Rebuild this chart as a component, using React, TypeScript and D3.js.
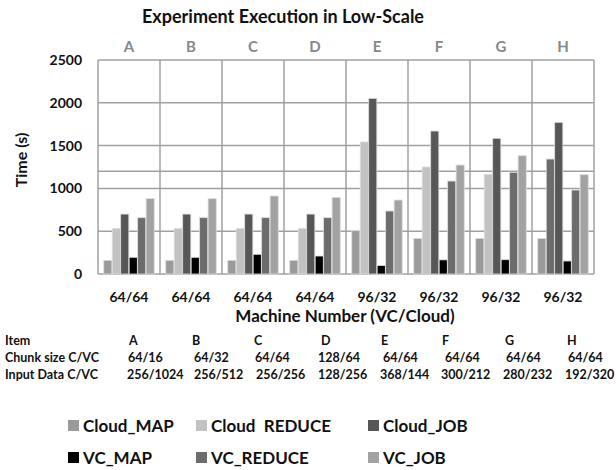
import React, { useEffect } from 'react';
import * as d3 from 'd3';

const groups = ['A', 'B', 'C', 'D', 'E', 'F', 'G', 'H'];
const machineLabels = ['64/64', '64/64', '64/64', '64/64', '96/32', '96/32', '96/32', '96/32'];
const series = ['Cloud_MAP', 'Cloud_REDUCE', 'Cloud_JOB', 'VC_MAP', 'VC_REDUCE', 'VC_JOB'];
const legendNames = ['Cloud_MAP', 'Cloud  REDUCE', 'Cloud_JOB', 'VC_MAP', 'VC_REDUCE', 'VC_JOB'];

const cloudMap = [160, 160, 160, 160, 505, 415, 415, 415];
const cloudReduce = [532, 532, 532, 532, 1542, 1250, 1165, 1343];
const cloudJob = [700, 700, 700, 700, 2052, 1670, 1585, 1772];
const vcMap = [195, 195, 230, 210, 100, 165, 167, 152];
const vcReduce = [658, 658, 658, 658, 736, 1086, 1188, 981];
const vcJob = [880, 880, 911, 895, 864, 1273, 1382, 1160];
const values = [cloudMap, cloudReduce, cloudJob, vcMap, vcReduce, vcJob];

const yTicks = [0, 500, 1000, 1500, 2000, 2500];
const refLine = 1200;

const tableRows = ['Item', 'Chunk size C/VC', 'Input Data C/VC'];
const chunkSize = ['64/16', '64/32', '64/64', '128/64', '64/64', '64/64', '64/64', '64/64'];
const inputData = ['256/1024', '256/512', '256/256', '128/256', '368/144', '300/212', '280/232', '192/320'];

const colors = ['#9a9a9a', '#c2c2c2', '#575757', '#000000', '#6c6c6c', '#a2a2a2'];
const font = 'Lato, "Open Sans", sans-serif';

const App = () => {
  useEffect(() => {
    document.body.style.margin = '0';
  }, []);

  const width = 616;
  const height = 470;
  const x = d3.scaleBand().domain(groups).range([98, 594]).padding(0);
  const inner = d3.scaleBand().domain(series).range([0, x.bandwidth()]).paddingOuter(0.68).paddingInner(0.04);
  const y = d3.scaleLinear().domain([0, 2500]).range([274, 60]);

  const itemX = [129, 192, 254, 321, 381, 442, 505, 567];
  const chunkX = [128, 194, 255, 318, 383, 445, 506, 568];
  const inputX = [127, 194, 256, 318, 380, 441, 503, 565];
  const tableY = [345, 362, 379];

  const legendX = [68, 196, 368];
  const legendY = [426, 458];

  return (
    <svg width={width} height={height} style={{ display: 'block', background: '#fff' }} fontFamily={font}>
      <text x={283} y={23} textAnchor="middle" fontSize={18} fontWeight="bold" fill="#111">
        Experiment Execution in Low-Scale
      </text>

      {groups.map(g => (
        <text key={g} x={x(g)! + x.bandwidth() / 2} y={52} textAnchor="middle" fontSize={15} fontWeight="bold" fill="#888">
          {g}
        </text>
      ))}

      {/* gridlines */}
      {yTicks.map(t => (
        <line key={t} x1={98} x2={594} y1={y(t)} y2={y(t)} stroke="#a0a0a0" strokeWidth={1.5} />
      ))}
      <line x1={98} x2={594} y1={y(refLine)} y2={y(refLine)} stroke="#a0a0a0" strokeWidth={1.5} />
      {groups.map(g => (
        <line key={g} x1={x(g)} x2={x(g)} y1={y(2500)} y2={y(0)} stroke="#a0a0a0" strokeWidth={1.5} />
      ))}
      <line x1={594} x2={594} y1={y(2500)} y2={y(0)} stroke="#a0a0a0" strokeWidth={1.5} />

      {/* bars */}
      {groups.map((g, gi) => (
        <g key={g} transform={`translate(${x(g)},0)`}>
          {series.map((s, si) => {
            const v = values[si][gi];
            const fill = g === 'H' && s === 'Cloud_REDUCE' ? '#6c6c6c' : colors[si];
            return (
              <rect
                key={s}
                x={inner(s)}
                y={y(v)}
                width={inner.bandwidth()}
                height={y(0) - y(v)}
                fill={fill}
                stroke="#dcdcdc"
                strokeWidth={0.8}
              />
            );
          })}
        </g>
      ))}

      {/* y axis */}
      {yTicks.map(t => (
        <text key={t} x={82} y={y(t) + 5} textAnchor="end" fontSize={14} fontWeight="bold" fill="#111">
          {t}
        </text>
      ))}
      <text transform="translate(27,160) rotate(-90)" textAnchor="middle" fontSize={16} fontWeight="bold" fill="#111">
        Time (s)
      </text>

      {/* x axis */}
      {groups.map((g, gi) => (
        <text key={g} x={x(g)! + x.bandwidth() / 2} y={302} textAnchor="middle" fontSize={14} fontWeight="bold" fill="#111">
          {machineLabels[gi]}
        </text>
      ))}
      <text x={345} y={322} textAnchor="middle" fontSize={17} fontWeight="bold" fill="#111">
        Machine Number (VC/Cloud)
      </text>

      {/* table */}
      {tableRows.map((r, ri) => (
        <text key={r} x={5} y={tableY[ri]} fontSize={12.5} fontWeight="bold" fill="#111">
          {r}
        </text>
      ))}
      {groups.map((g, gi) => (
        <g key={g} fontSize={12.5} fontWeight="bold" fill="#111">
          <text x={itemX[gi]} y={tableY[0]}>{g}</text>
          <text x={chunkX[gi]} y={tableY[1]}>{chunkSize[gi]}</text>
          <text x={inputX[gi]} y={tableY[2]}>{inputData[gi]}</text>
        </g>
      ))}

      {/* legend */}
      {legendNames.map((n, i) => {
        const lx = legendX[i % 3];
        const ly = legendY[Math.floor(i / 3)];
        return (
          <g key={n} transform={`translate(${lx},${ly})`}>
            <rect x={0} y={-6} width={11} height={11} fill={colors[i]} />
            <text x={15} y={6} fontSize={17} fontWeight="bold" fill="#111" style={{ whiteSpace: 'pre' }}>
              {n}
            </text>
          </g>
        );
      })}
    </svg>
  );
};

export default App;
